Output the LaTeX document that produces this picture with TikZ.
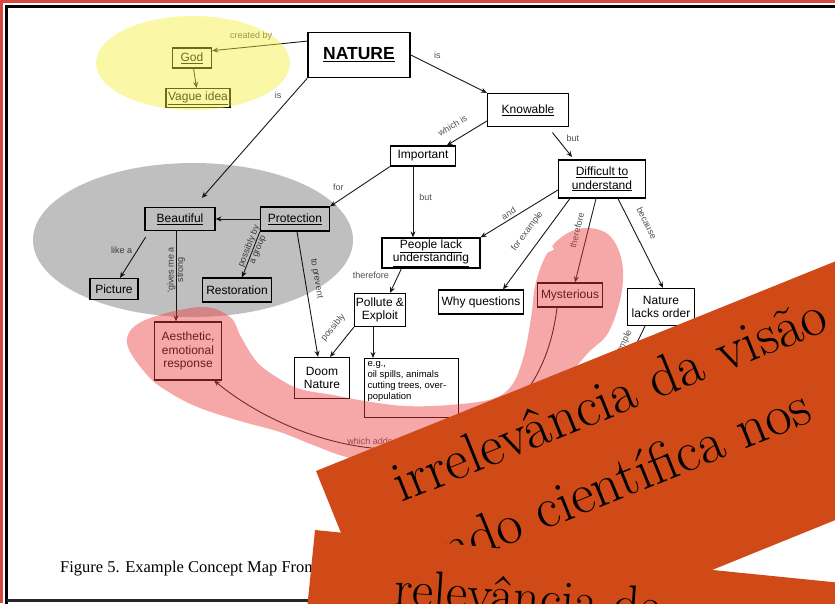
\documentclass[tikz,border=0pt]{standalone}
\usepackage{fontspec}
\setsansfont{Liberation Sans}
\newfontfamily\capfont{Liberation Serif}
\usepackage{tikz}
\usepackage{xcolor}
\usetikzlibrary{arrows.meta, positioning, calc}
\definecolor{lblgray}{HTML}{505050}
\definecolor{framered}{HTML}{D9483C}
\definecolor{hiyellow}{HTML}{F5F03C}
\definecolor{hired}{HTML}{EB3C3C}
\definecolor{banner}{HTML}{D04A18}

\begin{document}
\begin{tikzpicture}[x=1pt, y=-1pt,
            cbox/.style={draw=black, line width=1.2pt, font=\sffamily\fontsize{12}{13.5}\selectfont, align=center, inner sep=1pt},
            lnk/.style={draw=black!90, line width=0.9pt, -{Stealth[length=6pt, width=5pt]}},
            lbl/.style={font=\sffamily\fontsize{9}{9.5}\selectfont, text=lblgray, inner sep=1pt, align=center},
            bantext/.style={font=\fontsize{57}{64}\selectfont, text=black, inner sep=0pt}]
            \useasboundingbox (0,0) rectangle (835,603);
            % Frame
            \draw[framered, line width=2.5pt] (1.25,603) -- (1.25,1.25) -- (835,1.25);
            \draw[black, line width=3.5pt] (6.5,610) -- (6.5,6.5) -- (845,6.5);
            \draw[black!85, line width=3pt] (6.5,600.5) -- (845,600.5);
            % Concepts
            \node[cbox, minimum width=102pt, minimum height=45pt, line width=1.6pt, font=\sffamily\bfseries\fontsize{17.5}{19}\selectfont] (nature) at (359,55) {\underline{NATURE}};
            \node[cbox, minimum width=39pt, minimum height=20pt] (god) at (192,58) {\underline{God}};
            \node[cbox, minimum width=64pt, minimum height=19pt] (vague) at (198,98) {\underline{Vague idea}};
            \node[cbox, minimum width=81pt, minimum height=33pt] (know) at (528,110) {\underline{Knowable}};
            \node[cbox, minimum width=65pt, minimum height=20pt] (imp) at (423,156) {Important};
            \node[cbox, minimum width=87pt, minimum height=38pt] (diff) at (602,179) {\underline{Difficult to}\\\underline{understand}};
            \node[cbox, minimum width=70pt, minimum height=23pt] (beaut) at (180,219) {\underline{Beautiful}};
            \node[cbox, minimum width=69pt, minimum height=24pt] (prot) at (295,219) {\underline{Protection}};
            \node[cbox, minimum width=48pt, minimum height=21pt] (pic) at (114,289) {Picture};
            \node[cbox, minimum width=69pt, minimum height=24pt] (rest) at (237,290) {Restoration};
            \node[cbox, minimum width=98pt, minimum height=30pt] (lack) at (431,253) {\underline{People lack}\\\underline{understanding}};
            \node[cbox, minimum width=51pt, minimum height=33pt] (poll) at (380,310) {Pollute \&\\Exploit};
            \node[cbox, minimum width=85pt, minimum height=24pt] (why) at (481,302) {Why questions};
            \node[cbox, minimum width=65pt, minimum height=24pt] (myst) at (570,295) {Mysterious};
            \node[cbox, minimum width=67pt, minimum height=37pt] (order) at (661,307) {Nature\\lacks order};
            \node[cbox, minimum width=67pt, minimum height=58pt] (aes) at (188,351) {Aesthetic,\\emotional\\response};
            \node[cbox, minimum width=55pt, minimum height=41pt] (doom) at (322,378) {Doom\\Nature};
            \node[cbox, anchor=north west, inner sep=3pt, font=\sffamily\fontsize{9.5}{11}\selectfont] (eg) at (364,358)
                {\parbox[t][53pt][t]{88pt}{\raggedright e.g.,\\oil spills, animals\\cutting trees, over-\\population}};
            \coordinate (orderend) at (607,405);
            % Links
            \draw[lnk] (nature.165) -- (god.20) node[lbl, pos=0.59, above=5pt] {created by};
            \draw[lnk] (god) -- (vague);
            \draw[lnk] (nature.east) -- (know.north west) node[lbl, pos=0.35, above=8pt] {is};
            \draw[lnk, shorten >=12pt] (nature.south west) -- ([xshift=14pt]beaut.north) node[lbl, pos=0.135, left=9pt] {is};
            \draw[lnk] (know.195) -- (imp.24) node[lbl, sloped, pos=0.68, above=9pt] {which is};
            \draw[lnk, shorten <=7pt, shorten >=3pt] ([xshift=20pt]know.south) -- ([xshift=-28pt]diff.north) node[lbl, pos=0.35, right=8pt] {but};
            \draw[lnk] (imp.south west) -- (prot.north east) node[lbl, pos=0.86, above=9pt] {for};
            \draw[lnk] ([xshift=-10pt]imp.south) -- ([xshift=-10pt]imp.south |- lack.north) node[lbl, pos=0.44, right=5pt] {but};
            \draw[lnk] (diff.194) -- (lack.north east) node[lbl, sloped, pos=0.6, above=1pt] {and};
            \draw[lnk] ([xshift=12pt]diff.south west) -- ([xshift=22pt]why.north) node[lbl, sloped, pos=0.46, above=9pt] {for example};
            \draw[lnk] ([xshift=-6pt]diff.south) -- ([xshift=5pt]myst.north) node[lbl, sloped, pos=0.41, above=6pt] {therefore};
            \draw[lnk] ([xshift=16pt]diff.south) -- ([xshift=2pt]order.north) node[lbl, sloped, pos=0.35, above=10pt] {because};
            \draw[lnk] (prot.west) -- (beaut.east);
            \draw[lnk, shorten <=7pt] ([xshift=5pt]beaut.south west) -- ([xshift=6pt]pic.north) node[lbl, pos=0.4, left=4pt] {like a};
            \draw[lnk] ([xshift=-4pt]beaut.south) -- ([xshift=-4pt]beaut.south |- aes.north) node[lbl, rotate=90, pos=0.43] {`gives me a\\strong};
            \draw[lnk] (prot.south west) -- ([xshift=5pt]rest.north) node[lbl, sloped, pos=0.36] {possibly by\\a group};
            \draw[lnk] ([xshift=2pt]prot.south) -- ([xshift=-4pt]doom.north) node[lbl, sloped, pos=0.39, above=6pt] {to prevent};
            \draw[lnk] ([xshift=20pt]lack.south west) -- ([xshift=10pt]poll.north) node[lbl, pos=0.27, left=8pt] {therefore};
            \draw[lnk] (poll.south west) -- ([xshift=8pt]doom.north) node[lbl, sloped, pos=0.35, above=10pt] {possibly};
            \draw[lnk] ([xshift=-7pt]poll.south) -- ([xshift=-7pt]poll.south |- eg.north);
            \draw[lnk] ([xshift=-16pt]order.south) -- (orderend) node[lbl, sloped, pos=0.39, above=6pt] {for example};
            \draw[lnk] ([xshift=-13pt]myst.south) .. controls (535,490) and (330,475) .. ([xshift=-8pt]aes.south east)
                node[lbl, pos=0.62, above=1pt] {which adds};
            % Highlights
            \fill[black, opacity=0.25] (193,240) ellipse [x radius=160, y radius=77];
            \fill[hiyellow, opacity=0.45] (193,63) ellipse [x radius=97, y radius=47];
            \fill[hired, opacity=0.45] plot[smooth cycle, tension=0.6] coordinates {(127,343) (143,321) (200,307) (230,317) (241,337) (257,362) (278,378) (300,389) (333,395) (365,401) (405,406) (450,405) (492,399) (512,385) (524,355) (531,318) (536,282) (548,252) (566,234) (588,228) (610,236) (622,262) (621,296) (608,333) (588,353) (566,380) (548,412) (520,440) (470,462) (400,466) (350,458) (313,445) (280,432) (240,421) (200,408) (172,394) (148,376)};
            \fill[white, rotate around={25:(548,249)}] (543,246) rectangle (553,252);
            % Caption
            \node[font=\capfont\fontsize{16.5}{19}\selectfont, anchor=base west, inner sep=0pt] (cap) at (60,572) {Figure 5. Example Concept Map From};
            % Banners
            \fill[banner] (316,471) -- (965,209) -- (1055,431) -- (406,694) -- cycle;
            \node[bantext, rotate=22, anchor=base west] (ban1a) at (401,503) {irrelevância da visão};
            \node[bantext, rotate=22, anchor=base east] (ban1b) at (815,421) {mundo científica nos};
            \fill[banner] (315,530) -- (1011,600) -- (991,799) -- (295,729) -- cycle;
            \node[bantext, rotate=-4, anchor=base west, font=\fontsize{52}{58}\selectfont] (ban2) at (393,605) {relevância da};
        \end{tikzpicture}
\end{document}
